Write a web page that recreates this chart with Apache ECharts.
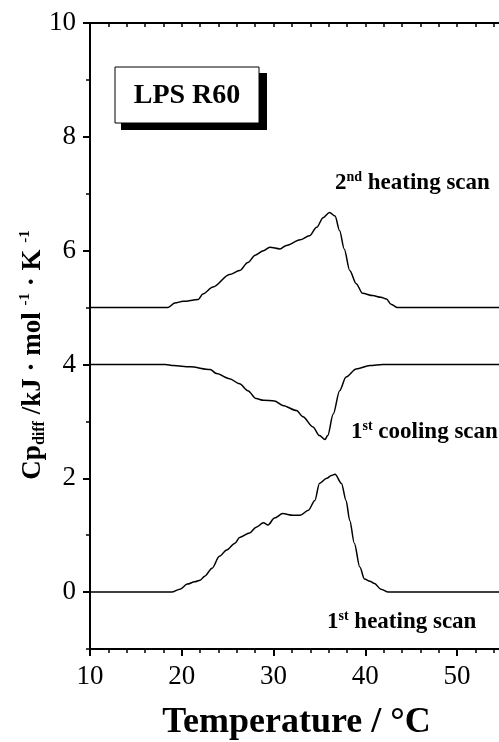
<!DOCTYPE html>
<html>
<head>
<meta charset="utf-8">
<script src="https://cdn.jsdelivr.net/npm/echarts@6/dist/echarts.min.js"></script>
<style>
html,body{margin:0;padding:0;background:#fff;}
#c{width:499px;height:742px;}
</style>
</head>
<body>
<div id="c"></div>
<script>
// ---- data ----
var heat1T = [10, 18.9, 19.8, 20.6, 21.4, 22.0, 22.5, 23.3, 24.1, 24.9, 25.8, 26.3, 27.4, 28.1, 28.9, 29.4, 30.1, 31.0, 32.1, 32.9, 33.8, 34.5, 35.0, 35.8, 36.3, 36.7, 37.4, 37.9, 38.3, 38.8, 39.4, 39.9, 40.5, 41.0, 41.7, 42.5, 55];
var heat1Y = [0, 0, 0.05, 0.14, 0.18, 0.21, 0.28, 0.42, 0.63, 0.74, 0.86, 0.96, 1.04, 1.14, 1.22, 1.18, 1.30, 1.38, 1.35, 1.35, 1.44, 1.61, 1.91, 2.00, 2.05, 2.07, 1.91, 1.61, 1.26, 0.86, 0.44, 0.23, 0.19, 0.15, 0.05, 0, 0];

var heat2T = [10, 18.5, 19.25, 20.15, 21.8, 22.3, 23.4, 25.2, 26.3, 27.2, 28.0, 28.9, 29.6, 30.7, 31.4, 32.9, 33.9, 34.7, 35.4, 36.1, 36.7, 37.2, 37.7, 38.3, 39.0, 39.7, 40.8, 41.7, 42.3, 42.8, 43.5, 55];
var heat2Y = [5, 5, 5.08, 5.11, 5.14, 5.24, 5.36, 5.58, 5.65, 5.79, 5.92, 6.00, 6.06, 6.03, 6.09, 6.19, 6.26, 6.41, 6.58, 6.67, 6.61, 6.35, 6.03, 5.65, 5.42, 5.25, 5.21, 5.18, 5.15, 5.06, 5.0, 5.0];

var coolT = [10, 18.2, 19.1, 20.9, 23.1, 23.8, 25.2, 26.3, 27.2, 28.1, 28.9, 30.1, 31.0, 32.5, 33.2, 34.3, 35.0, 35.6, 35.9, 36.5, 37.2, 37.9, 39.0, 40.5, 41.9, 55];
var coolY = [4, 4, 3.98, 3.96, 3.91, 3.84, 3.75, 3.66, 3.54, 3.40, 3.37, 3.36, 3.28, 3.19, 3.08, 2.90, 2.75, 2.68, 2.75, 3.13, 3.54, 3.78, 3.92, 3.98, 4.0, 4.0];

var yMajorTicks = [0, 2, 4, 6, 8, 10];
var yMinorTicks = [-1, 1, 3, 5, 7, 9];
var xRange = [10, 55];
var yRange = [-1, 10];

function zip(a, b) { var r = []; for (var i = 0; i < a.length; i++) r.push([a[i], b[i]]); return r; }

var FONT = '"Liberation Serif", "Times New Roman", serif';
var chart = echarts.init(document.getElementById('c'), null, {renderer: 'canvas'});

var lineStyle = {color: '#000', width: 1.5};
function mkSeries(name, data) {
  return {name: name, type: 'line', data: data, showSymbol: false, symbol: 'none',
    smooth: 0.3, smoothMonotone: 'x', lineStyle: lineStyle, silent: true, xAxisIndex: 0, yAxisIndex: 0};
}

var option = {
  animation: false,
  backgroundColor: '#fff',
  grid: {left: 90, top: 23, width: 413, height: 626, containLabel: false, outerBoundsMode: 'none'},
  xAxis: [
    {type: 'value', position: 'bottom', min: xRange[0], max: xRange[1], interval: 10,
     axisLine: {show: true, onZero: false, lineStyle: {color: '#000', width: 2}},
     axisTick: {show: true, length: 7, lineStyle: {color: '#000', width: 2}},
     minorTick: {show: true, splitNumber: 5, length: 4, lineStyle: {color: '#000', width: 1.5}},
     splitLine: {show: false},
     axisLabel: {color: '#000', fontFamily: FONT, fontSize: 27, margin: 14, showMaxLabel: false},
     name: 'Temperature / °C', nameLocation: 'middle', nameGap: 56,
     nameTextStyle: {color: '#000', fontFamily: FONT, fontSize: 36, fontWeight: 'bold'}},
    {type: 'value', position: 'top', min: xRange[0], max: xRange[1], interval: 2,
     axisLine: {show: true, onZero: false, lineStyle: {color: '#000', width: 2}},
     axisTick: {show: true, inside: true, length: 4, lineStyle: {color: '#000', width: 1.5}},
     axisLabel: {show: false}, splitLine: {show: false}}
  ],
  yAxis: [
    {type: 'value', min: yRange[0], max: yRange[1], interval: 1,
     axisLine: {show: true, onZero: false, lineStyle: {color: '#000', width: 2}},
     axisTick: {show: true, length: 7, customValues: yMajorTicks, lineStyle: {color: '#000', width: 2}},
     axisLabel: {color: '#000', fontFamily: FONT, fontSize: 27, margin: 14, customValues: yMajorTicks},
     splitLine: {show: false}},
    {type: 'value', min: yRange[0], max: yRange[1], interval: 1, position: 'left',
     axisLine: {show: false},
     axisTick: {show: true, length: 4, customValues: yMinorTicks, lineStyle: {color: '#000', width: 1.5}},
     axisLabel: {show: false}, splitLine: {show: false}}
  ],
  series: [
    mkSeries('1st heating scan', zip(heat1T, heat1Y)),
    mkSeries('1st cooling scan', zip(coolT, coolY)),
    mkSeries('2nd heating scan', zip(heat2T, heat2Y))
  ],
  graphic: [
    {type: 'rect', shape: {x: 121, y: 73, width: 146, height: 57}, style: {fill: '#000'}, z: 10},
    {type: 'rect', shape: {x: 115, y: 67, width: 144, height: 56}, style: {fill: '#fff', stroke: '#000', lineWidth: 1}, z: 11},
    {type: 'text', x: 187, y: 96, z: 12, style: {text: 'LPS R60', fill: '#000', font: 'bold 28px ' + FONT, textAlign: 'center', textVerticalAlign: 'middle'}},
    {type: 'text', x: 335, y: 196, z: 12, style: {
      text: '{n|2}{s|nd}{n| heating scan}', textAlign: 'left', textVerticalAlign: 'bottom',
      rich: {n: {fontFamily: FONT, fontSize: 23, fontWeight: 'bold', fill: '#000', lineHeight: 26},
             s: {fontFamily: FONT, fontSize: 14, fontWeight: 'bold', fill: '#000', verticalAlign: 'top', lineHeight: 14}}}},
    {type: 'text', x: 351, y: 445, z: 12, style: {
      text: '{n|1}{s|st}{n| cooling scan}', textAlign: 'left', textVerticalAlign: 'bottom',
      rich: {n: {fontFamily: FONT, fontSize: 23, fontWeight: 'bold', fill: '#000', lineHeight: 26},
             s: {fontFamily: FONT, fontSize: 14, fontWeight: 'bold', fill: '#000', verticalAlign: 'top', lineHeight: 14}}}},
    {type: 'text', x: 327, y: 635, z: 12, style: {
      text: '{n|1}{s|st}{n| heating scan}', textAlign: 'left', textVerticalAlign: 'bottom',
      rich: {n: {fontFamily: FONT, fontSize: 23, fontWeight: 'bold', fill: '#000', lineHeight: 26},
             s: {fontFamily: FONT, fontSize: 14, fontWeight: 'bold', fill: '#000', verticalAlign: 'top', lineHeight: 14}}}},
    {type: 'text', x: 33, y: 355, rotation: Math.PI / 2, z: 12, style: {
      text: '{n|Cp}{b|diff}{n| /kJ · mol }{s|-1}{n| · K }{s|-1}', textAlign: 'center', textVerticalAlign: 'middle',
      rich: {n: {fontFamily: FONT, fontSize: 27, fontWeight: 'bold', fill: '#000', lineHeight: 30},
             b: {fontFamily: FONT, fontSize: 16, fontWeight: 'bold', fill: '#000', verticalAlign: 'bottom', lineHeight: 16},
             s: {fontFamily: FONT, fontSize: 15, fontWeight: 'bold', fill: '#000', verticalAlign: 'top', lineHeight: 15}}}}
  ]
};
chart.setOption(option);
</script>
</body>
</html>
